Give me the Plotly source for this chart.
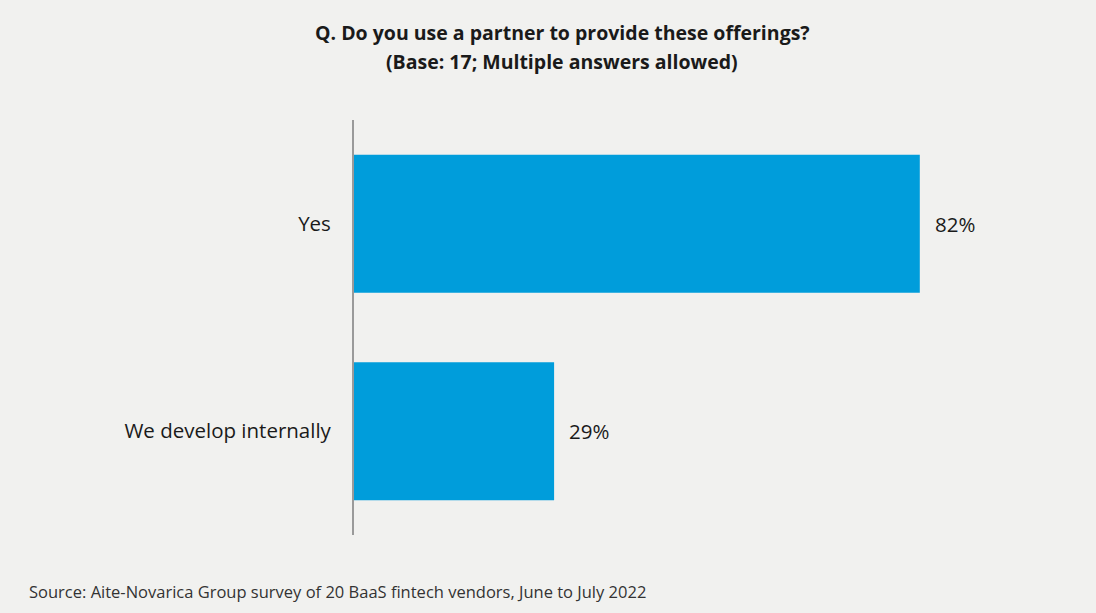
import plotly.graph_objects as go

categories = ["Yes", "We develop internally"]
values = [82, 29]
value_labels = ["82%", "29%"]

BG = "#f1f1ef"
BAR = "#009ddb"
FONT = "'Open Sans', sans-serif"

W, H = 1096, 613
L, R, T, B = 354, 52, 120, 78
PW, PH = W - L - R, H - T - B

fig = go.Figure(
    go.Bar(
        x=values,
        y=categories,
        orientation="h",
        marker=dict(color=BAR, line=dict(width=0)),
        hoverinfo="skip",
    )
)

for cat, val, lab in zip(categories, values, value_labels):
    fig.add_annotation(
        x=val, y=cat, text=lab, showarrow=False,
        xanchor="left", xshift=13,
        font=dict(family=FONT, size=20.5, color="#1a1a1a"),
    )

title_x = (562 - L) / PW
fig.add_annotation(
    xref="paper", yref="paper", x=title_x, y=1 + (T - 33) / PH,
    text="<b>Q. Do you use a partner to provide these offerings?</b>",
    showarrow=False, xanchor="center", yanchor="middle",
    font=dict(family=FONT, size=19.5, color="#1a1a1a"),
)
fig.add_annotation(
    xref="paper", yref="paper", x=title_x, y=1 + (T - 62) / PH,
    text="<b>(Base: 17; Multiple answers allowed)</b>",
    showarrow=False, xanchor="center", yanchor="middle",
    font=dict(family=FONT, size=19.5, color="#1a1a1a"),
)
fig.add_annotation(
    xref="paper", yref="paper", x=(27 - L) / PW, y=-(591 - (H - B)) / PH,
    text="Source: Aite-Novarica Group survey of 20 BaaS fintech vendors, June to July 2022",
    showarrow=False, xanchor="left", yanchor="middle",
    font=dict(family=FONT, size=16.5, color="#333333"),
)

fig.update_layout(
    width=W, height=H,
    margin=dict(l=L, r=R, t=T, b=B, pad=0),
    paper_bgcolor=BG, plot_bgcolor=BG,
    bargap=0.335,
    showlegend=False,
)
fig.update_xaxes(range=[0, 100], visible=False, fixedrange=True)
fig.update_yaxes(
    autorange="reversed",
    showline=True, linecolor="#9a9a9a", linewidth=2,
    showgrid=False, zeroline=False,
    ticks="", ticklabelstandoff=17,
    tickfont=dict(family=FONT, size=20.5, color="#1a1a1a"),
)

fig.write_html("out.html")
